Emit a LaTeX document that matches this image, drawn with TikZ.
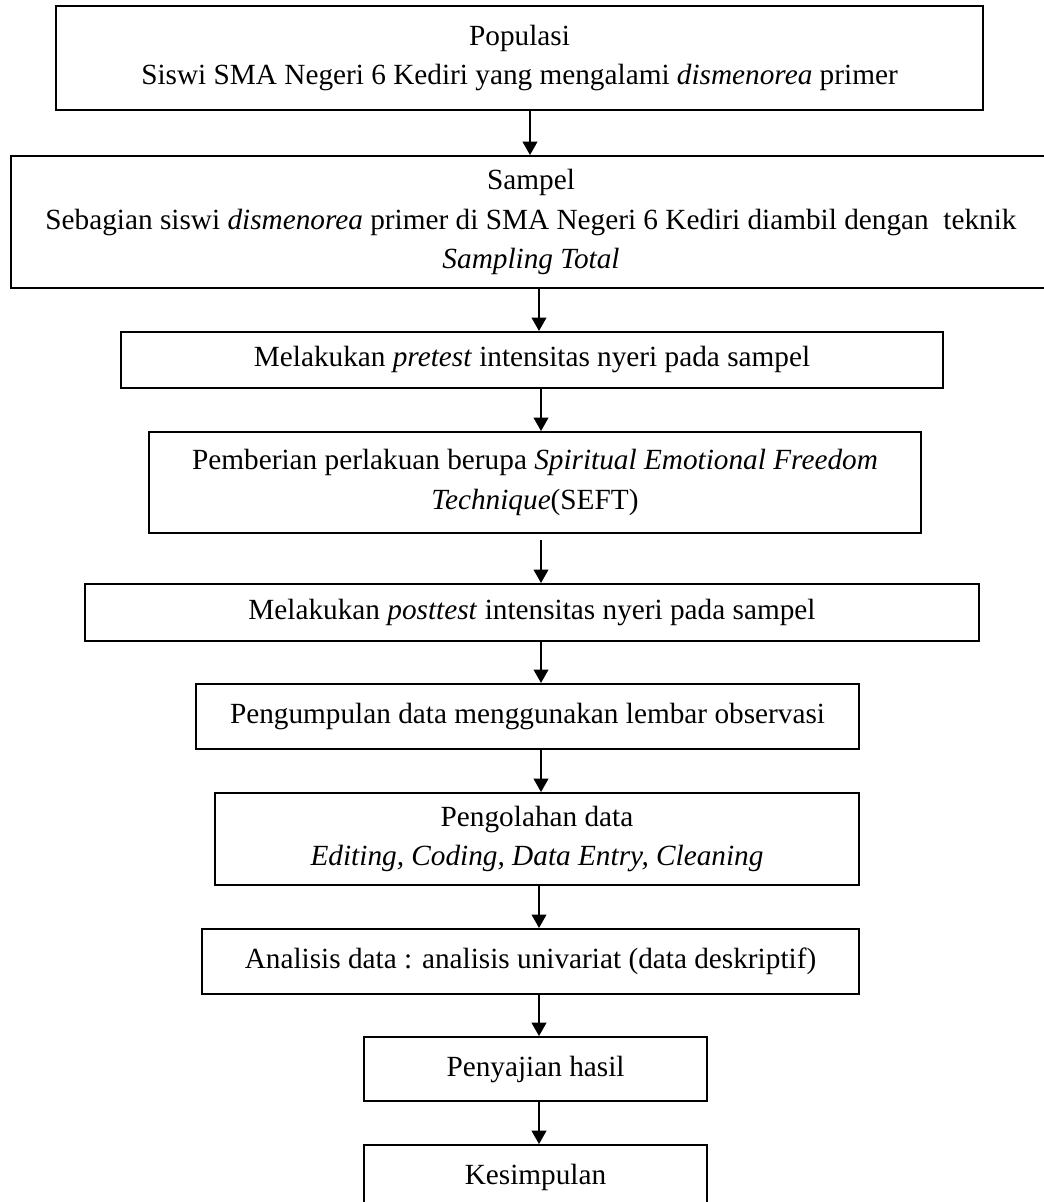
\documentclass[tikz,border=0pt]{standalone}
\usepackage{fontspec}
\setmainfont{Liberation Serif}
\usetikzlibrary{arrows.meta}

\tikzstyle{kotak}=[draw, line width=0.8pt, align=center, inner sep=0pt, font=\fontsize{12}{16.2}\selectfont]
\tikzstyle{panah}=[line width=0.8pt, -{Triangle[length=5.5pt,width=6pt]}]

\begin{document}
\begin{tikzpicture}[x=0.41pt, y=-0.41pt]
\useasboundingbox (0,0) rectangle (1044,1202);

% POPULASI & SAMPEL
\node[kotak, minimum width=380.1pt, minimum height=42.6pt] (pop) at (519.5,58) {Populasi\\Siswi SMA Negeri 6 Kediri yang mengalami \textit{dismenorea} primer};
\node[kotak, minimum width=426.4pt, minimum height=54.1pt] (sampel) at (531,222) {Sampel\\Sebagian siswi \textit{dismenorea} primer di SMA Negeri 6 Kediri diambil dengan\ \ teknik\\\textit{Sampling Total}};

% PRETEST & PERLAKUAN
\node[kotak, minimum width=337pt, minimum height=23pt] (pre) at (532,360) {Melakukan \textit{pretest} intensitas nyeri pada sampel};
\node[kotak, minimum width=316.5pt, minimum height=41.4pt] (beri) at (535,482.5) {Pemberian perlakuan berupa \textit{Spiritual Emotional Freedom}\\\textit{Technique}(SEFT)};

% POSTTEST & DATA
\node[kotak, minimum width=366.5pt, minimum height=23.4pt] (post) at (532,612.5) {Melakukan \textit{posttest} intensitas nyeri pada sampel};
\node[kotak, minimum width=271.8pt, minimum height=26.7pt] (kumpul) at (527.5,716.5) {Pengumpulan data menggunakan lembar observasi};
\node[kotak, minimum width=264pt, minimum height=37.7pt] (olah) at (537,839) {Pengolahan data\\\textit{Editing, Coding, Data Entry, Cleaning}};
\node[kotak, minimum width=269.4pt, minimum height=26.7pt] (analisis) at (530.5,961.5) {Analisis data : analisis univariat (data deskriptif)};

% HASIL
\node[kotak, minimum width=140.6pt, minimum height=26.2pt] (saji) at (535.5,1069) {Penyajian hasil};
\node[kotak, minimum width=140.6pt, minimum height=26.2pt] (simpul) at (535.5,1177) {Kesimpulan};

% PANAH
\draw[panah] (pop.south -| 530,0) -- (sampel.north -| 530,0);
\draw[panah] (sampel.south -| 539,0) -- (pre.north -| 539,0);
\draw[panah] (pre.south -| 541,0) -- (beri.north -| 541,0);
\draw[panah] ([yshift=-2.5pt]beri.south -| 541,0) -- (post.north -| 541,0);
\draw[panah] (post.south -| 541,0) -- (kumpul.north -| 541,0);
\draw[panah] (kumpul.south -| 541,0) -- (olah.north -| 541,0);
\draw[panah] (olah.south -| 539,0) -- (analisis.north -| 539,0);
\draw[panah] (analisis.south -| 539,0) -- (saji.north -| 539,0);
\draw[panah] (saji.south -| 539,0) -- (simpul.north -| 539,0);

\end{tikzpicture}
\end{document}
